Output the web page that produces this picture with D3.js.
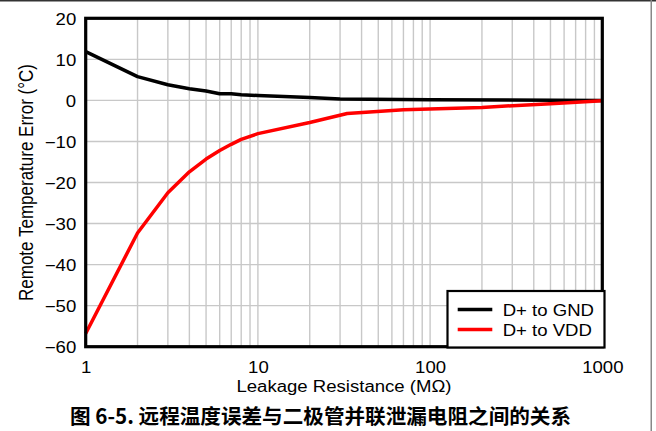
<!DOCTYPE html>
<html><head><meta charset="utf-8">
<script src="https://cdn.jsdelivr.net/npm/d3@7"></script>
<style>
html,body{margin:0;padding:0;background:#fff;}
svg{display:block;}
text{font-family:"Liberation Sans",Arial,sans-serif;fill:#000;}
</style></head>
<body>
<svg id="chart" width="656" height="431"></svg>
<script>
// Data
const gndX = [1, 2, 3, 4, 5, 6, 7, 8, 10, 20, 30, 100, 1000];
const gndY = [11.9, 5.8, 3.8, 2.85, 2.3, 1.6, 1.6, 1.4, 1.2, 0.7, 0.35, 0.15, 0];
const vddX = [1, 2, 3, 4, 5, 6, 7, 8, 10, 20, 33, 70, 200, 500, 1000];
const vddY = [-56.8, -32.3, -22.5, -17.4, -14.3, -12.2, -10.7, -9.5, -8.1, -5.4, -3.2, -2.3, -1.7, -0.8, -0.1];
const xTicks = [1, 10, 100, 1000];
const yTicks = [-60, -50, -40, -30, -20, -10, 0, 10, 20];
const seriesNames = ["D+ to GND", "D+ to VDD"];
const seriesColors = ["#000000", "#ff0000"];
const xTitle = "Leakage Resistance (MΩ)";
const yTitle = "Remote Temperature Error (°C)";
const caption = "图 6-5. 远程温度误差与二极管并联泄漏电阻之间的关系";

const svg = d3.select("#chart");
const L = 85.7, R = 602.3, T = 18.3, B = 346.7;
const STRETCH = 1.16;

const x = d3.scaleLog().domain([1, 1000]).range([L, R]);
const y = d3.scaleLinear().domain([-60, 20]).range([B, T]);

// page border
svg.append("rect").attr("x", 0).attr("y", 0).attr("width", 656).attr("height", 1.5).attr("fill", "#333");
svg.append("rect").attr("x", 650.5).attr("y", 0).attr("width", 1.5).attr("height", 431).attr("fill", "#888");

// grid
const minor = [];
for (let d = 1; d < 1000; d *= 10) for (let k = 1; k <= 9; k++) { const v = d * k; if (v > 1 && v < 1000) minor.push(v); }
svg.append("g").selectAll("line").data(minor).join("line")
  .attr("x1", d => x(d)).attr("x2", d => x(d)).attr("y1", T).attr("y2", B)
  .attr("stroke", "#c8c8c8").attr("stroke-width", 1.4);
svg.append("g").selectAll("line").data(yTicks.filter(v => v > -60 && v < 20)).join("line")
  .attr("x1", L).attr("x2", R).attr("y1", d => y(d)).attr("y2", d => y(d))
  .attr("stroke", "#c8c8c8").attr("stroke-width", 1.4);

// axes
function stretchText(sel, factor) {
  sel.each(function () {
    const w = this.getComputedTextLength();
    d3.select(this).attr("textLength", w * factor).attr("lengthAdjust", "spacingAndGlyphs");
  });
}
const yAxis = svg.append("g").attr("transform", `translate(${L},0)`)
  .call(d3.axisLeft(y).tickValues(yTicks).tickSize(0).tickPadding(9.5).tickFormat(d3.format("d")));
yAxis.select(".domain").remove();
yAxis.selectAll("text").attr("font-size", 16).attr("font-family", "Liberation Sans, Arial, sans-serif").attr("dy", "0.36em");
stretchText(yAxis.selectAll("text"), STRETCH);

const xAxis = svg.append("g").attr("transform", `translate(0,${B})`)
  .call(d3.axisBottom(x).tickValues(xTicks).tickSize(0).tickPadding(0).tickFormat(d3.format("d")));
xAxis.select(".domain").remove();
xAxis.selectAll("text").attr("font-size", 16).attr("font-family", "Liberation Sans, Arial, sans-serif").attr("dy", null).attr("y", 26.3);
stretchText(xAxis.selectAll("text"), STRETCH);

// lines
const line = d3.line().x(d => x(d[0])).y(d => y(d[1]));
const series = [d3.zip(gndX, gndY), d3.zip(vddX, vddY)];
svg.append("g").selectAll("path").data(series).join("path")
  .attr("d", line).attr("fill", "none")
  .attr("stroke", (d, i) => seriesColors[i]).attr("stroke-width", 3.5)
  .attr("stroke-linejoin", "round");

// frame
svg.append("rect").attr("x", L).attr("y", T).attr("width", R - L).attr("height", B - T)
  .attr("fill", "none").attr("stroke", "#000").attr("stroke-width", 3.2);

// legend
const lg = svg.append("g");
lg.append("rect").attr("x", 447.5).attr("y", 291).attr("width", 157).attr("height", 56.5)
  .attr("fill", "#fff").attr("stroke", "#000").attr("stroke-width", 2.2);
seriesNames.forEach((name, i) => {
  const yy = 309.5 + i * 20;
  lg.append("line").attr("x1", 457.7).attr("x2", 492.3).attr("y1", yy).attr("y2", yy)
    .attr("stroke", seriesColors[i]).attr("stroke-width", 3.5);
  const t = lg.append("text").attr("x", 502.7).attr("y", yy + 6.5).attr("font-size", 16).text(name);
  stretchText(t, STRETCH);
});

// axis titles
const xt = svg.append("text").attr("x", (L + R) / 2).attr("y", 391.5).attr("text-anchor", "middle")
  .attr("font-size", 16).text(xTitle);
stretchText(xt, STRETCH);
svg.append("text").attr("transform", `translate(33.3,${(T + B) / 2}) scale(${STRETCH},1) rotate(-90)`)
  .attr("text-anchor", "middle").attr("font-size", 17).text(yTitle);

// caption
svg.append("text").attr("x", 320.5).attr("y", 424).attr("text-anchor", "middle")
  .attr("font-size", 20.6).attr("font-weight", "bold")
  .style("font-family", "'Noto Sans CJK SC', sans-serif").text(caption);
</script>
</body></html>
